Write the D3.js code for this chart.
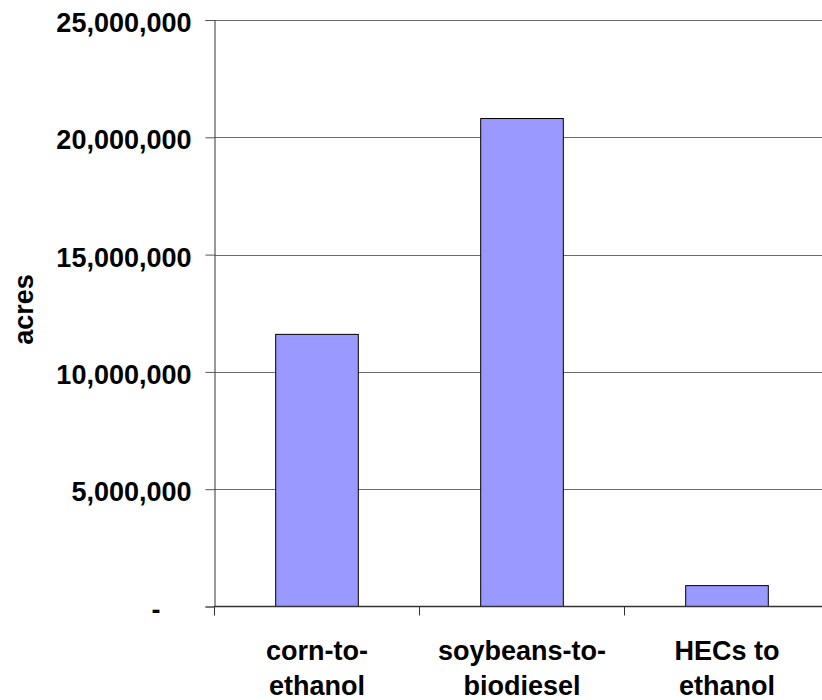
<!DOCTYPE html>
<html>
<head>
<meta charset="utf-8">
<script src="https://cdn.jsdelivr.net/npm/d3@7"></script>
<style>
  html, body { margin: 0; padding: 0; background: #fff; }
  svg { display: block; font-family: "Liberation Sans", Arial, sans-serif; font-weight: bold; }
</style>
</head>
<body>
<svg id="chart" width="822" height="700"></svg>
<script>
// Acreage needed per biofuel pathway
const categories = [["corn-to-", "ethanol"], ["soybeans-to-", "biodiesel"], ["HECs to", "ethanol"]];
const acres = [11600000, 20800000, 890000];
const yTicks = [0, 5000000, 10000000, 15000000, 20000000, 25000000];

const svg = d3.select("#chart");
const plotLeft = 214.5, plotRight = 829.5, plotTop = 20, plotBottom = 606.5;

const x = d3.scaleBand()
  .domain(d3.range(categories.length))
  .range([plotLeft, plotRight])
  .paddingInner(0.597)
  .paddingOuter(0.2985);

const y = d3.scaleLinear().domain([0, 25000000]).range([plotBottom, plotTop]);

const fmt = d3.format(",");

// horizontal gridlines
svg.append("g")
  .selectAll("line")
  .data(yTicks.filter(d => d > 0))
  .join("line")
  .attr("x1", plotLeft).attr("x2", plotRight)
  .attr("y1", d => Math.round(y(d)) + 0.5).attr("y2", d => Math.round(y(d)) + 0.5)
  .attr("stroke", "#6a6a6a").attr("stroke-width", 1);

// bars
svg.append("g")
  .selectAll("rect")
  .data(acres)
  .join("rect")
  .attr("x", (d, i) => x(i))
  .attr("width", x.bandwidth())
  .attr("y", d => y(d))
  .attr("height", d => plotBottom - y(d))
  .attr("fill", "#9999ff")
  .attr("stroke", "#000").attr("stroke-width", 1);

// y axis
const yAxis = svg.append("g")
  .attr("transform", `translate(${plotLeft},0)`)
  .call(d3.axisLeft(y).tickValues(yTicks).tickSize(9).tickPadding(14)
    .tickFormat(d => d === 0 ? "-" : fmt(d)));
yAxis.select(".domain").attr("stroke", "#333");
yAxis.selectAll(".tick line").attr("stroke", "#555");
yAxis.selectAll(".tick text")
  .attr("font-size", 27).attr("font-weight", "bold").attr("fill", "#000")
  .attr("font-family", "Liberation Sans, Arial, sans-serif")
  .attr("dy", "0.43em")
  .attr("dx", d => d === 0 ? -31 : 0);

// category baseline and separators
svg.append("line")
  .attr("x1", plotLeft).attr("x2", plotRight)
  .attr("y1", plotBottom).attr("y2", plotBottom)
  .attr("stroke", "#333").attr("stroke-width", 1.5);
svg.append("g")
  .selectAll("line")
  .data(d3.range(categories.length + 1))
  .join("line")
  .attr("x1", i => plotLeft + i * x.step()).attr("x2", i => plotLeft + i * x.step())
  .attr("y1", plotBottom).attr("y2", plotBottom + 9)
  .attr("stroke", "#333").attr("stroke-width", 1);

// category labels
const lab = svg.append("g")
  .selectAll("text")
  .data(categories)
  .join("text")
  .attr("text-anchor", "middle")
  .attr("font-size", 27)
  .attr("fill", "#000")
  .attr("transform", (d, i) => `translate(${x(i) + x.bandwidth() / 2},0)`);
lab.selectAll("tspan")
  .data(d => d)
  .join("tspan")
  .attr("x", 0)
  .attr("y", (d, j) => 660 + j * 35)
  .text(d => d);

// y axis title
svg.append("text")
  .attr("transform", "translate(33,309.5) rotate(-90)")
  .attr("text-anchor", "middle")
  .attr("font-size", 27)
  .attr("fill", "#000")
  .text("acres");
</script>
</body>
</html>
